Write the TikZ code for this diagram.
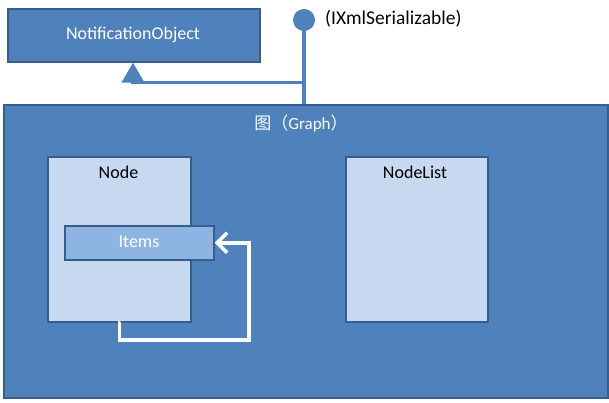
\documentclass[tikz,border=0pt]{standalone}
\usepackage{fontspec}
\setmainfont{Carlito}
\newfontfamily\cjk{Noto Sans CJK SC}
\usetikzlibrary{arrows.meta,positioning}
\definecolor{mainblue}{HTML}{4F81BD}
\definecolor{darkblue}{HTML}{385D8A}
\definecolor{lightblue}{HTML}{C6D9F0}
\definecolor{midblue}{HTML}{8EB4E3}
\tikzset{
  box/.style={draw=darkblue, line width=1.6pt, rectangle, inner sep=0pt},
  bluebox/.style={box, fill=mainblue},
  lightbox/.style={box, fill=lightblue},
  itembox/.style={box, fill=midblue},
  whitetxt/.style={text=white, font=\fontsize{18}{21}\selectfont, inner sep=0pt},
  blacktxt/.style={text=black, font=\fontsize{18}{21}\selectfont, inner sep=0pt},
  conn/.style={draw=mainblue, line width=3.6pt},
  loopline/.style={draw=white, line width=3.6pt, line cap=round, line join=miter},
}
\begin{document}
\begin{tikzpicture}[x=1pt,y=-1pt]
\useasboundingbox[fill=white] (0,0) rectangle (609,403);
% top
\node[bluebox, minimum width=252pt, minimum height=53pt, anchor=north west] (notif) at (7,8) {};
\node[whitetxt] (notift) at (133,35) {NotificationObject};
% graph
\node[bluebox, minimum width=604pt, minimum height=293pt, anchor=north west] (graph) at (3,104) {};
\node[whitetxt, font=\fontsize{17}{20}\selectfont] (grapht) at (301,124) {{\cjk 图（}Graph{\cjk ）}};
% lollipop
\node[circle, fill=mainblue, minimum size=22pt, inner sep=0pt] (iface) at (304,20) {};
\node[text=black, font=\fontsize{19.5}{22}\selectfont, inner sep=0pt, anchor=west] (ifacet) at (325,19) {(IXmlSerializable)};
\coordinate (junc) at (304,82.5);
\coordinate (tribase) at (133,82.5);
\draw[conn] (iface.center) -- (iface.center |- graph.north);
\draw[conn, -{Triangle[length=20pt,width=22pt]}] (junc) -- (tribase) -- (tribase |- notif.south);
% inner boxes
\node[lightbox, minimum width=143pt, minimum height=165pt, anchor=north west] (nodebox) at (47,156) {};
\node[blacktxt] (nodet) at (118.5,172) {Node};
\node[lightbox, minimum width=142pt, minimum height=165pt, anchor=north west] (listbox) at (345,156) {};
\node[blacktxt] (listt) at (415,172) {NodeList};
\node[itembox, minimum width=149pt, minimum height=34pt, anchor=north west] (items) at (64,225) {};
\node[whitetxt] (itemst) at (139,242) {Items};
% self loop
\coordinate (lc) at (249,340);
\draw[loopline, -{Straight Barb[length=10pt,width=20pt,line width=3.6pt]}] (nodebox.south) |- (lc) |- (items.east);
\end{tikzpicture}
\end{document}
